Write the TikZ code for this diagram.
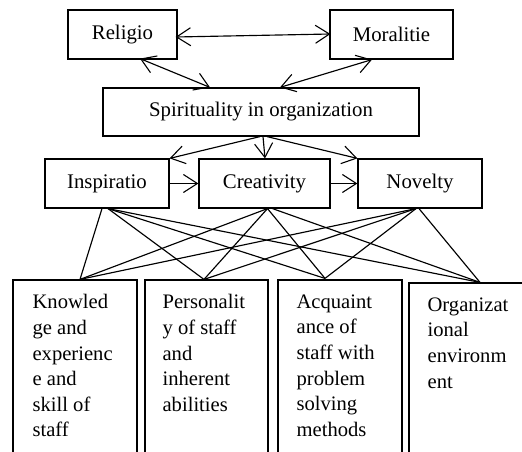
\documentclass[tikz,border=0pt]{standalone}
\usepackage{fontspec}
\setmainfont{Liberation Serif}
\usetikzlibrary{arrows.meta,calc}
\begin{document}
\begin{tikzpicture}[x=1pt,y=-1pt,
  box/.style={draw,line width=1.2pt,inner sep=0pt,font=\fontsize{20.8}{24}\selectfont},
  link/.style={line width=1.15pt},
  barb/.tip={Straight Barb[length=14pt,width=18pt,line width=1.1pt]},
  arr/.style={link,-barb},
  darr/.style={link,barb-barb},
  body/.style={anchor=north west,inner sep=0pt,align=left,font=\fontsize{20.6}{25.6}\selectfont}]
  \clip (0,0) rectangle (522,452);

  % top level
  \node[box,minimum width=109pt,minimum height=49pt] (rel) at (122.5,34.5) {Religio\hspace{10pt}};
  \node[box,minimum width=123pt,minimum height=49pt] (mor) at (391.5,34.5) {Moralitie\hspace{6pt}};
  \node[box,minimum width=316pt,minimum height=48pt] (spi) at (261,112) {Spirituality in organization};

  % middle level
  \node[box,minimum width=124pt,minimum height=49pt] (ins) at (107,183.5) {Inspiratio};
  \node[box,minimum width=131pt,minimum height=49pt] (cre) at (264.5,183.5) {Creativity\hspace{6pt}};
  \node[box,minimum width=124pt,minimum height=49pt] (nov) at (420,183.5) {Novelty\hspace{14pt}};

  % bottom level (boxes run past the lower edge)
  \node[box,minimum width=124pt,minimum height=190pt] (kno) at (75,375) {};
  \node[box,minimum width=123pt,minimum height=190pt] (per) at (206.5,375) {};
  \node[box,minimum width=124pt,minimum height=190pt] (acq) at (340,375) {};
  \node[box,minimum width=126pt,minimum height=187pt] (org) at (472,376.5) {};

  \node[body] (knoT) at ($(kno.north west)+(20,15)$) {Knowled\\ge and\\experienc\\e and\\skill  of\\staff};
  \node[body] (perT) at ($(per.north west)+(18,15)$) {Personalit\\y of staff\\and\\inherent\\abilities};
  \node[body] (acqT) at ($(acq.north west)+(19,15)$) {Acquaint\\ance of\\staff with\\problem\\solving\\methods};
  \node[body] (orgT) at ($(org.north west)+(19,15)$) {Organizat\\ional\\environm\\ent};

  % arrows among the upper boxes
  \draw[darr] ($(rel.east)+(-2,2.5)$) -- ($(mor.west)+(1,-0.5)$);
  \draw[darr] ($(rel.south)+(17.5,-1)$) -- ($(spi.north)+(-51,0)$);
  \draw[darr] ($(mor.south)+(-19.5,0)$) -- ($(spi.north)+(19,0)$);
  \draw[arr] ($(spi.south)+(-1,0)$) -- (ins.north east);
  \draw[arr] ($(spi.south)+(2,0)$) -- ($(cre.north)+(0.5,0)$);
  \draw[arr] ($(spi.south)+(6,0)$) -- (nov.north west);
  \draw[arr] (ins.east) -- (cre.west);
  \draw[arr] (cre.east) -- (nov.west);

  % attachment points for the web of links
  \coordinate (iK) at ($(ins.south)+(-5,0)$);
  \coordinate (iX) at ($(ins.south)+(1,0)$);
  \coordinate (cX) at ($(cre.south)+(3,0)$);
  \coordinate (cO) at ($(cre.south)+(8,0)$);
  \coordinate (nX) at ($(nov.south)+(-4,0)$);
  \coordinate (nO) at ($(nov.south)+(-1,0)$);
  \coordinate (bK) at ($(kno.north)+(5,0)$);
  \coordinate (bP) at ($(per.north)+(-2.5,0)$);
  \coordinate (bA) at ($(acq.north)+(-15,-1)$);
  \coordinate (bO) at ($(org.north)+(8,0)$);

  \draw[link] (iK) -- (bK);
  \draw[link] (iX) -- (bP);
  \draw[link] (iX) -- (bA);
  \draw[link] (iX) -- (bO);
  \draw[link] (cX) -- (bK);
  \draw[link] (cX) -- (bP);
  \draw[link] (cX) -- (bA);
  \draw[link] (cO) -- (bO);
  \draw[link] (nX) -- (bK);
  \draw[link] (nX) -- (bP);
  \draw[link] (nX) -- (bA);
  \draw[link] (nO) -- (bO);
\end{tikzpicture}
\end{document}
